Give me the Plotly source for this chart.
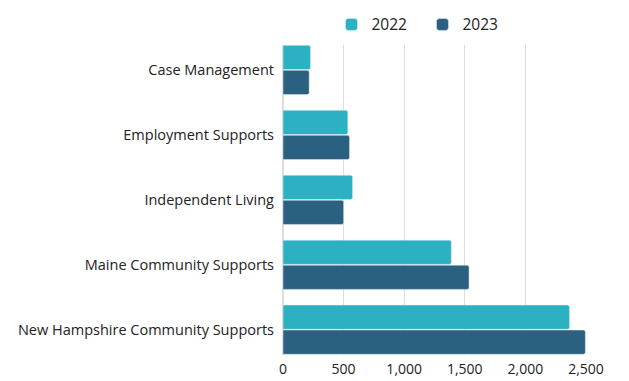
import plotly.graph_objects as go

categories = ["Case Management", "Employment Supports", "Independent Living",
              "Maine Community Supports", "New Hampshire Community Supports"]
values_2022 = [227, 535, 574, 1389, 2364]
values_2023 = [216, 549, 500, 1535, 2495]
x_ticks = [0, 500, 1000, 1500, 2000, 2500]
x_tick_labels = ["0", "500", "1,000", "1,500", "2,000", "2,500"]

FONT = "Open Sans"
C2022 = "#2bb1c1"
C2023 = "#2a6180"

fig = go.Figure()
fig.add_trace(go.Bar(y=categories, x=values_2022, name="2022", orientation="h",
                     marker=dict(color=C2022, cornerradius=2)))
fig.add_trace(go.Bar(y=categories, x=values_2023, name="2023", orientation="h",
                     marker=dict(color=C2023, cornerradius=2)))

fig.update_layout(
    width=629, height=381,
    margin=dict(l=283, r=43, t=45, b=26, autoexpand=False),
    paper_bgcolor="white", plot_bgcolor="white",
    barmode="group", bargap=0.23, bargroupgap=0.03,
    font=dict(family=FONT, size=14, color="#222222"),
    showlegend=True,
    legend=dict(orientation="h", x=0.16, xanchor="left", y=1.065, yanchor="middle",
                font=dict(family=FONT, size=15.5, color="#222222"),
                traceorder="normal", entrywidth=46),
    xaxis=dict(range=[0, 2500], tickvals=x_ticks, ticktext=x_tick_labels,
               showgrid=True, gridcolor="#dddddd", gridwidth=1,
               zeroline=True, zerolinecolor="#dddddd", showline=False,
               ticks="", ticklabelstandoff=4, tickfont=dict(size=14),
               automargin=False),
    yaxis=dict(range=[4.39, -0.385], showgrid=False, zeroline=False,
               ticks="", ticklabelstandoff=8, tickfont=dict(size=14.5),
               automargin=False),
)

fig.write_html("out.html", config={"displayModeBar": False},
               post_script="document.body.style.margin='0';document.body.style.overflow='hidden';")
